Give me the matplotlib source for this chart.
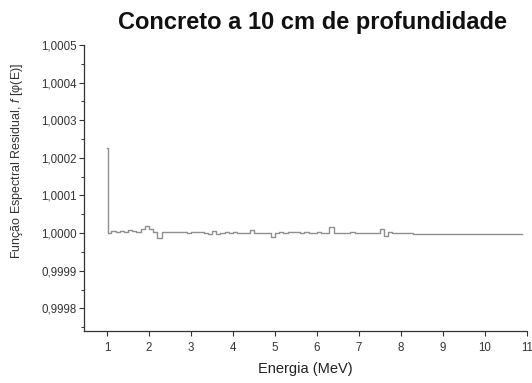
import numpy as np
import matplotlib
matplotlib.use('Agg')
import matplotlib.pyplot as plt
from matplotlib.ticker import MultipleLocator, FuncFormatter

plt.rcParams['font.family'] = ['Liberation Sans', 'DejaVu Sans']
plt.rcParams['mathtext.fontset'] = 'custom'
plt.rcParams['mathtext.it'] = 'Liberation Sans:italic'
plt.rcParams['mathtext.rm'] = 'Liberation Sans'

# Bin edges (MeV) and residual deviations from 1 (in units of 1e-5)
energy_start = [1.0, 1.02]
energy_bins = [round(1.1 + 0.1 * i, 2) for i in range(73)]
energy_end = [10.9]
energy = energy_start + energy_bins + energy_end

deviation = [22.5, 0.0,
             0.5, 0.3, 0.5, 0.4, 0.8, 0.5, 0.3, 1.2, 1.8,
             1.0, 0.2, -1.2, 0.2, 0.3, 0.4, 0.2, 0.4, 0.3, 0.1,
             0.3, 0.2, 0.2, 0.0, -0.3, 0.5, -0.2, 0.0, 0.3, 0.0,
             0.4, 0.1, 0.0, 0.0, 0.8, 0.1, 0.0, -0.1, 0.0, -1.0,
             0.0, 0.3, 0.1, 0.4, 0.2, 0.2, 0.0, 0.3, 0.1, 0.0,
             0.3, 0.0, 0.0, 1.5, 0.0, 0.0, 0.0, 0.0, 0.2, 0.0,
             0.0, 0.0, 0.0, 0.0, 0.0, 1.2, -0.8, 0.3, 0.1, 0.0,
             0.0, 0.0, 0.0, -0.2, -0.2]

residual = 1.0 + np.array(deviation) * 1e-5

fig = plt.figure(figsize=(5.32, 3.83), dpi=100)
ax = fig.add_axes([0.158, 0.136, 0.832, 0.7465])

ax.step(energy, residual, where='post', color='#909090', linewidth=1.0)

ax.set_xlim(0.45, 11)
ax.set_ylim(0.99974, 1.0005)
ax.xaxis.set_major_locator(MultipleLocator(1))
ax.yaxis.set_major_locator(MultipleLocator(0.0001))
ax.yaxis.set_minor_locator(MultipleLocator(0.00005))
ax.yaxis.set_major_formatter(FuncFormatter(lambda v, p: f"{v:.4f}".replace('.', ',')))

ax.spines['top'].set_visible(False)
ax.spines['right'].set_visible(False)
for s in ['left', 'bottom']:
    ax.spines[s].set_color('#333333')
    ax.spines[s].set_linewidth(0.9)

ax.tick_params(axis='both', which='major', labelsize=8.3, length=3.5, width=0.8,
               colors='#333333', labelcolor='#333333')
ax.tick_params(axis='x', which='major', pad=4.5)
ax.tick_params(axis='y', which='major', pad=1.5)
ax.tick_params(axis='y', which='minor', length=2.2, width=0.7, colors='#333333')

ax.set_xlabel('Energia (MeV)', fontsize=10.5, color='#222222', labelpad=6)
fig.text(17 / 532, 1 - 161 / 383, r'Função Espectral Residual, $\it{f}$ [φ(E)]',
         fontsize=9, color='#333333', rotation=90, ha='center', va='center')
fig.text(312 / 532, 1 - 22 / 383, 'Concreto a 10 cm de profundidade', fontsize=17,
         fontweight='bold', color='#111111', ha='center', va='center')

fig.savefig('out.png', dpi=100)
